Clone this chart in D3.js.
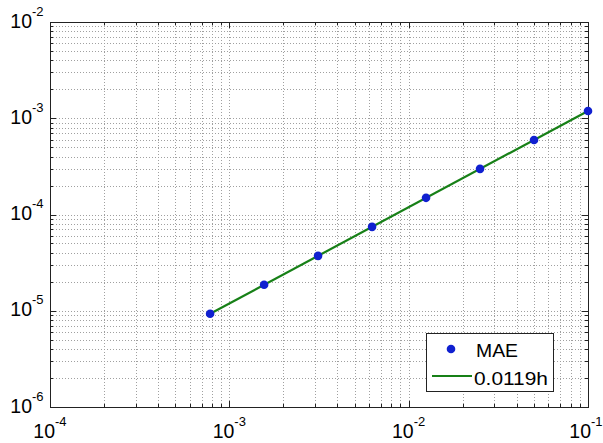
<!DOCTYPE html>
<html><head><meta charset="utf-8">
<script src="https://cdn.jsdelivr.net/npm/d3@7"></script>
<style>body{margin:0;background:#fff}svg{display:block}text{font-family:"Liberation Sans",Arial,sans-serif}</style>
</head><body><svg id="c" width="603" height="443"></svg>
<script>
const h = [0.00078125, 0.0015625, 0.003125, 0.00625, 0.0125, 0.025, 0.05, 0.1];
const mae = [9.3e-6, 1.86e-5, 3.72e-5, 7.44e-5, 1.49e-4, 2.98e-4, 5.95e-4, 1.19e-3];
const fitH = [0.00078125, 0.1];
const fitY = [9.3e-6, 1.19e-3];
const xDecades = [-4, -3, -2, -1];
const yDecades = [-6, -5, -4, -3, -2];
const legendLabels = ["MAE", "0.0119h"];

const svg = d3.select("#c");
const L = 50, R = 588, T = 22, B = 407;
const x = d3.scaleLog().domain([1e-4, 1e-1]).range([L, R]);
const y = d3.scaleLog().domain([1e-6, 1e-2]).range([B, T]);

svg.append("rect").attr("width", 603).attr("height", 443).attr("fill", "#fff");

function gridVals(decs) {
  const v = [];
  for (let i = 0; i < decs.length - 1; i++)
    for (let m = 1; m < 10; m++) v.push({v: m * Math.pow(10, decs[i]), major: m === 1});
  v.push({v: Math.pow(10, decs[decs.length - 1]), major: true});
  return v;
}
const xv = gridVals(xDecades), yv = gridVals(yDecades);

const g = svg.append("g");
g.selectAll("line.gx").data(xv.filter(d => d.v > 1e-4 && d.v < 1e-1)).join("line")
  .attr("x1", d => Math.round(x(d.v)) + 0.5).attr("x2", d => Math.round(x(d.v)) + 0.5)
  .attr("y1", T).attr("y2", B).attr("stroke", "#a0a0a0").attr("stroke-width", 1).attr("stroke-dasharray", "1,2");
g.selectAll("line.gy").data(yv.filter(d => d.v > 1e-6 && d.v < 1e-2)).join("line")
  .attr("y1", d => Math.round(y(d.v)) + 0.5).attr("y2", d => Math.round(y(d.v)) + 0.5)
  .attr("x1", L).attr("x2", R).attr("stroke", "#a0a0a0").attr("stroke-width", 1).attr("stroke-dasharray", "1,2");

// ticks
const tk = svg.append("g").attr("stroke", "#222").attr("stroke-width", 1);
xv.forEach(d => {
  const px = Math.round(x(d.v)) + 0.5, len = d.major ? 6 : 3;
  tk.append("line").attr("x1", px).attr("x2", px).attr("y1", B).attr("y2", B - len);
  tk.append("line").attr("x1", px).attr("x2", px).attr("y1", T).attr("y2", T + len);
});
yv.forEach(d => {
  const py = Math.round(y(d.v)) + 0.5, len = d.major ? 6 : 3;
  tk.append("line").attr("y1", py).attr("y2", py).attr("x1", L).attr("x2", L + len);
  tk.append("line").attr("y1", py).attr("y2", py).attr("x1", R).attr("x2", R - len);
});
svg.append("rect").attr("x", L + 0.5).attr("y", T + 0.5).attr("width", R - L).attr("height", B - T)
  .attr("fill", "none").attr("stroke", "#222").attr("stroke-width", 1);

// tick labels
const lab = svg.append("g").attr("fill", "#000");
xDecades.forEach((k, i) => {
  const px = x(Math.pow(10, k)) - (i === xDecades.length - 1 ? 2 : 0);
  lab.append("text").attr("x", px + 5).attr("y", 438).attr("text-anchor", "end").attr("font-size", 19.5).text("10");
  lab.append("text").attr("x", px + 5).attr("y", 426).attr("font-size", 13).text(String(k));
});
yDecades.forEach(k => {
  const py = y(Math.pow(10, k));
  lab.append("text").attr("x", 32).attr("y", py + 5.5).attr("text-anchor", "end").attr("font-size", 19.5).text("10");
  lab.append("text").attr("x", 32).attr("y", py - 6.5).attr("font-size", 13).text(String(k));
});

// fit line
const line = d3.line().x((d, i) => x(fitH[i])).y(d => y(d));
svg.append("path").datum(fitY).attr("d", line).attr("fill", "none").attr("stroke", "#178017").attr("stroke-width", 2.2);
// points
svg.selectAll("circle.p").data(mae).join("circle")
  .attr("cx", (d, i) => x(h[i])).attr("cy", d => y(d)).attr("r", 4.3).attr("fill", "#1020d0");

// legend
const lg = svg.append("g");
lg.append("rect").attr("x", 426.5).attr("y", 333.5).attr("width", 127).attr("height", 58)
  .attr("fill", "#fff").attr("stroke", "#222").attr("stroke-width", 1);
lg.append("circle").attr("cx", 451).attr("cy", 349).attr("r", 4.3).attr("fill", "#1020d0");
lg.append("line").attr("x1", 432).attr("x2", 472).attr("y1", 376).attr("y2", 376).attr("stroke", "#178017").attr("stroke-width", 2.2);
lg.append("text").attr("x", 476).attr("y", 357).attr("font-size", 18).attr("textLength", 42).attr("lengthAdjust", "spacingAndGlyphs").text(legendLabels[0]);
lg.append("text").attr("x", 474).attr("y", 385).attr("font-size", 18).attr("textLength", 74).attr("lengthAdjust", "spacingAndGlyphs").text(legendLabels[1]);
</script></body></html>
